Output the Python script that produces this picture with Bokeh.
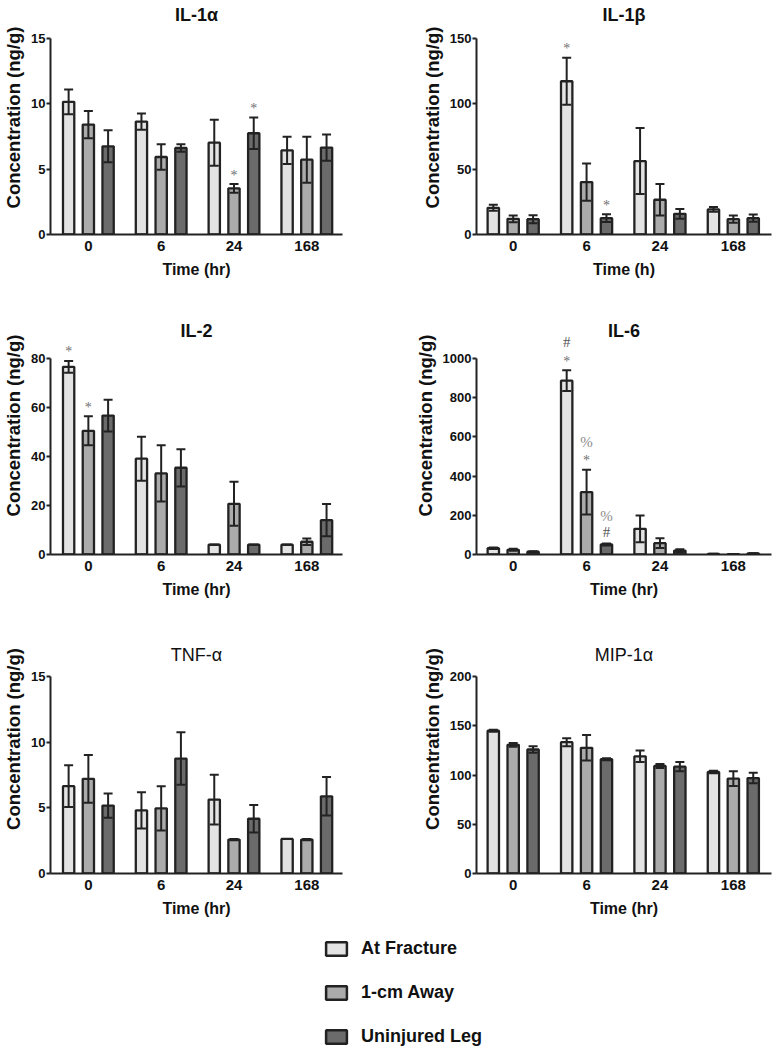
from bokeh.plotting import figure
from bokeh.models import (ColumnDataSource, FixedTicker, Range1d, Whisker, TeeHead,
                          LabelSet, Label, Legend, LegendItem)
from bokeh.layouts import column, row
from bokeh.embed import file_html
from bokeh.resources import INLINE

# ---------------- data ----------------
time_points = ["0", "6", "24", "168"]
groups = ["At Fracture", "1-cm Away", "Uninjured Leg"]

titles = ["IL-1α", "IL-1β", "IL-2", "IL-6", "TNF-α", "MIP-1α"]
title_bold = [True, True, True, True, False, False]
x_titles = ["Time (hr)", "Time (h)", "Time (hr)", "Time (hr)", "Time (hr)", "Time (hr)"]
y_title = "Concentration (ng/g)"
y_tick_values = [
    [0, 5, 10, 15],
    [0, 50, 100, 150],
    [0, 20, 40, 60, 80],
    [0, 200, 400, 600, 800, 1000],
    [0, 5, 10, 15],
    [0, 50, 100, 150, 200],
]

# means / SEM : one row per group, one column per time point
il1a_mean = [[10.15, 8.64, 7.03, 6.44], [8.41, 5.93, 3.53, 5.73], [6.75, 6.62, 7.75, 6.65]]
il1a_err = [[0.95, 0.62, 1.76, 1.05], [1.05, 0.97, 0.33, 1.76], [1.23, 0.28, 1.2, 1.0]]

il1b_mean = [[20.4, 117.3, 56.2, 19.2], [12.0, 40.1, 26.6, 11.7], [11.7, 12.5, 15.8, 12.5]]
il1b_err = [[2.3, 18.0, 25.3, 1.8], [2.6, 14.3, 12.0, 2.8], [3.0, 3.0, 3.8, 2.8]]

il2_mean = [[76.6, 39.1, 4.0, 4.0], [50.5, 33.1, 20.7, 5.2], [56.7, 35.4, 4.0, 14.0]]
il2_err = [[2.4, 9.0, 0.0, 0.0], [5.9, 11.5, 9.0, 1.3], [6.5, 7.6, 0.0, 6.6]]

il6_mean = [[32, 887, 131, 3], [24, 318, 58, 2], [14, 51, 20, 5]]
il6_err = [[4, 53, 68, 1], [5, 114, 25, 1], [3, 5, 7, 1]]

tnfa_mean = [[6.65, 4.81, 5.63, 2.63], [7.21, 4.96, 2.58, 2.58], [5.17, 8.75, 4.17, 5.88]]
tnfa_err = [[1.59, 1.38, 1.89, 0.0], [1.82, 1.69, 0.05, 0.05], [0.92, 2.0, 1.05, 1.46]]

mip1a_mean = [[144.9, 133.3, 119.0, 103.1], [130.6, 127.6, 109.2, 96.3], [125.9, 116.0, 108.5, 96.9]]
mip1a_err = [[1.0, 4.0, 5.8, 1.3], [2.0, 12.9, 2.0, 7.4], [3.4, 1.0, 4.8, 5.4]]

# significance marks: (group index, time index, symbol, stack level)
il1a_marks = [(1, 2, "*", 0), (2, 2, "*", 0)]
il1b_marks = [(0, 1, "*", 0), (2, 1, "*", 0)]
il2_marks = [(0, 0, "*", 0), (1, 0, "*", 0)]
il6_marks = [(0, 1, "*", 0), (0, 1, "#", 1), (1, 1, "*", 0), (1, 1, "%", 1),
             (2, 1, "#", 0), (2, 1, "%", 1)]
tnfa_marks = []
mip1a_marks = []

panel_means = [il1a_mean, il1b_mean, il2_mean, il6_mean, tnfa_mean, mip1a_mean]
panel_errs = [il1a_err, il1b_err, il2_err, il6_err, tnfa_err, mip1a_err]
panel_marks = [il1a_marks, il1b_marks, il2_marks, il6_marks, tnfa_marks, mip1a_marks]

# ---------------- style / layout ----------------
FONT = "Liberation Sans"
INK = "#222222"
TEXT = "#111111"
BAR_FILL = ["#e3e3e3", "#ababab", "#6b6b6b"]
BAR_W = 0.155
BAR_STEP = 0.271
MARK_COLOR = {"*": "#707070", "#": "#555555", "%": "#8c8c8c"}
MARK_SIZE = {"*": "14px", "#": "15px", "%": "15px"}

col_width = [388, 388]
col_left = [45, 88]
col_frame_w = [297, 295]
col_xr = [(-0.52, 3.49), (-0.5, 3.52)]
row_height = [296, 308, 321]
row_axis_top = [38, 62, 72]      # px from figure top to the top of the y axis
row_axis_len = [196, 196, 197]
title_gap = [24, 28, 22]         # px from top of y axis to title centre


def make_panel(i):
    c, r = i % 2, i // 2
    ymax = y_tick_values[i][-1]
    frame_h = row_axis_top[r] + row_axis_len[r]
    yend = ymax * frame_h / row_axis_len[r]
    p = figure(width=col_width[c], height=row_height[r],
               x_range=Range1d(*col_xr[c]), y_range=Range1d(0, yend),
               toolbar_location=None, output_backend="svg",
               min_border_left=col_left[c],
               min_border_right=col_width[c] - col_left[c] - col_frame_w[c],
               min_border_top=0,
               min_border_bottom=row_height[r] - frame_h)
    p.outline_line_color = None
    p.grid.visible = False
    p.background_fill_color = "white"

    xr = col_xr[c]
    p.add_layout(Label(x=(xr[0] + xr[1]) / 2, y=ymax, y_offset=title_gap[r],
                       text=titles[i], text_align="center", text_baseline="middle",
                       text_font=FONT, text_font_size="18px",
                       text_font_style="bold" if title_bold[i] else "normal",
                       text_color=TEXT))

    means, errs = panel_means[i], panel_errs[i]
    for s in range(3):
        xs = [t + (s - 1) * BAR_STEP for t in range(len(time_points))]
        m, e = means[s], errs[s]
        src = ColumnDataSource(dict(x=xs, top=m,
                                    upper=[a + b for a, b in zip(m, e)],
                                    lower=[a - b for a, b in zip(m, e)]))
        p.vbar(x="x", top="top", bottom=0, width=BAR_W, source=src,
               fill_color=BAR_FILL[s], line_color=INK, line_width=2.3)
        w = Whisker(source=src, base="x", upper="upper", lower="lower",
                    dimension="height", line_color=INK, line_width=2,
                    upper_head=TeeHead(size=9, line_color=INK, line_width=2),
                    lower_head=TeeHead(size=9, line_color=INK, line_width=2),
                    level="annotation")
        p.add_layout(w)

    marks = panel_marks[i]
    if marks:
        mx, my, mt, mo, mc, ms = [], [], [], [], [], []
        for (s, t, sym, lvl) in marks:
            mx.append(t + (s - 1) * BAR_STEP)
            my.append(means[s][t] + errs[s][t])
            mt.append(sym)
            mo.append(12 + 16 * lvl - (3 if sym == "*" else 0))
            mc.append(MARK_COLOR[sym])
            ms.append(MARK_SIZE[sym])
        msrc = ColumnDataSource(dict(x=mx, y=my, text=mt, off=mo, col=mc, size=ms))
        ls = LabelSet(x="x", y="y", text="text", y_offset="off", source=msrc,
                      text_align="center", text_baseline="middle",
                      text_color="col", text_font_size="size", text_font=FONT,
                      level="annotation")
        p.add_layout(ls)

    # axes
    xa, ya = p.xaxis[0], p.yaxis[0]
    xa.ticker = FixedTicker(ticks=list(range(len(time_points))))
    xa.major_label_overrides = {k: lab for k, lab in enumerate(time_points)}
    ya.ticker = FixedTicker(ticks=y_tick_values[i])
    ya.bounds = (0, ymax)
    xa.axis_label = x_titles[i]
    ya.axis_label = y_title
    for ax in (xa, ya):
        ax.axis_line_width = 2
        ax.axis_line_color = INK
        ax.major_tick_line_color = INK
        ax.major_tick_line_width = 2
        ax.minor_tick_line_color = None
        ax.major_tick_in = 0
        ax.major_label_text_font = FONT
        ax.major_label_text_font_style = "bold"
        ax.major_label_text_color = TEXT
        ax.axis_label_text_font = FONT
        ax.axis_label_text_font_style = "bold"
        ax.axis_label_text_color = TEXT
    xa.axis_label_text_font_size = "16px"
    ya.axis_label_text_font_size = "18.5px"
    xa.major_tick_out = 0
    xa.major_label_text_font_size = "15px"
    xa.major_label_standoff = 6
    xa.axis_label_standoff = 7
    ya.major_tick_out = 4
    ya.major_label_text_font_size = "13px"
    ya.major_label_standoff = 1
    ya.axis_label_standoff = 4
    return p


panels = [make_panel(i) for i in range(6)]

# legend panel (legend swatches only; the renderers hold no drawable data)
pl = figure(width=776, height=124, toolbar_location=None, output_backend="svg",
            x_range=Range1d(0, 1), y_range=Range1d(0, 1),
            min_border_left=0, min_border_right=0, min_border_top=0, min_border_bottom=0)
pl.axis.visible = False
pl.grid.visible = False
pl.outline_line_color = None
items = []
for name, color in zip(groups, BAR_FILL):
    rr = pl.vbar(x=[float("nan")], top=[float("nan")], bottom=[float("nan")], width=0.1,
                 fill_color=color, line_color=INK, line_width=2.5)
    items.append(LegendItem(label=name, renderers=[rr]))
leg = Legend(items=items, location=(323, 2), glyph_width=26, glyph_height=17,
             label_height=21, label_standoff=12, spacing=23, padding=0, margin=0,
             label_text_font=FONT, label_text_font_size="18px",
             label_text_font_style="bold", label_text_color=TEXT,
             border_line_color=None, background_fill_alpha=0)
pl.add_layout(leg)

layout = column(row(panels[0], panels[1]), row(panels[2], panels[3]),
                row(panels[4], panels[5]), pl)

open("out.html", "w").write(file_html(layout, INLINE))
